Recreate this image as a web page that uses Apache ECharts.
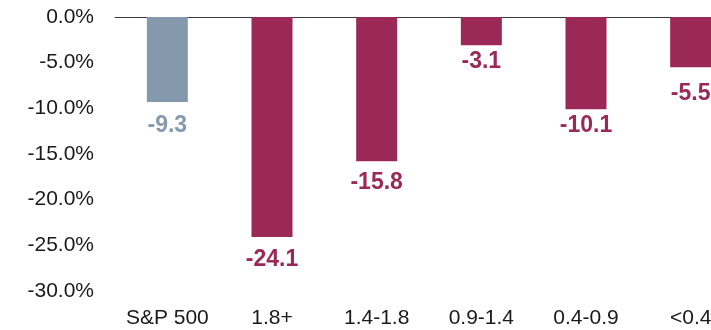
<!DOCTYPE html>
<html><head><meta charset="utf-8">
<script src="https://cdn.jsdelivr.net/npm/echarts@6/dist/echarts.min.js"></script>
<style>html,body{margin:0;padding:0;background:#fff}#c{width:711px;height:330px}</style>
</head><body><div id="c"></div>
<script>
var categories = ['S&P 500', '1.8+', '1.4-1.8', '0.9-1.4', '0.4-0.9', '<0.4'];
var values = [-9.3, -24.1, -15.8, -3.1, -10.1, -5.5];
var yTicks = [0, -5, -10, -15, -20, -25, -30];
var barColors = ['#8599ad', '#9b2957', '#9b2957', '#9b2957', '#9b2957', '#9b2957'];
var labelGaps = [12, 11, 10, 5, 5, 15];

var FONT = "'Liberation Sans', Arial, sans-serif";
var chart = echarts.init(document.getElementById('c'));
chart.setOption({
  animation: false,
  grid: { left: 115, top: 17, right: -32, bottom: 39, containLabel: false, outerBoundsMode: 'none' },
  xAxis: [{
    type: 'category', data: categories, position: 'bottom',
    axisLine: { show: false, onZero: false }, axisTick: { show: false },
    axisLabel: { interval: 0, fontFamily: FONT, fontSize: 21, color: '#1a1a1a', margin: 17 }
  }, {
    type: 'category', data: categories, position: 'top',
    axisLine: { show: true, onZero: false, lineStyle: { color: '#3a3a3a', width: 1 } },
    axisTick: { show: false }, axisLabel: { show: false }
  }],
  yAxis: {
    type: 'value', min: yTicks[yTicks.length - 1], max: yTicks[0], interval: 5,
    axisLine: { show: false }, axisTick: { show: false }, splitLine: { show: false },
    axisLabel: { fontFamily: FONT, fontSize: 21, color: '#1a1a1a', margin: 21,
      formatter: function (v) { return v.toFixed(1) + '%'; } }
  },
  series: [{
    type: 'bar', xAxisIndex: 0, barWidth: 41,
    data: values.map(function (v, i) {
      return {
        value: v,
        itemStyle: { color: barColors[i] },
        label: { show: true, position: 'bottom', distance: labelGaps[i], color: barColors[i],
          fontFamily: FONT, fontSize: 23, fontWeight: 'bold',
          formatter: function (p) { return p.value.toFixed(1); } }
      };
    })
  }]
});
</script></body></html>
